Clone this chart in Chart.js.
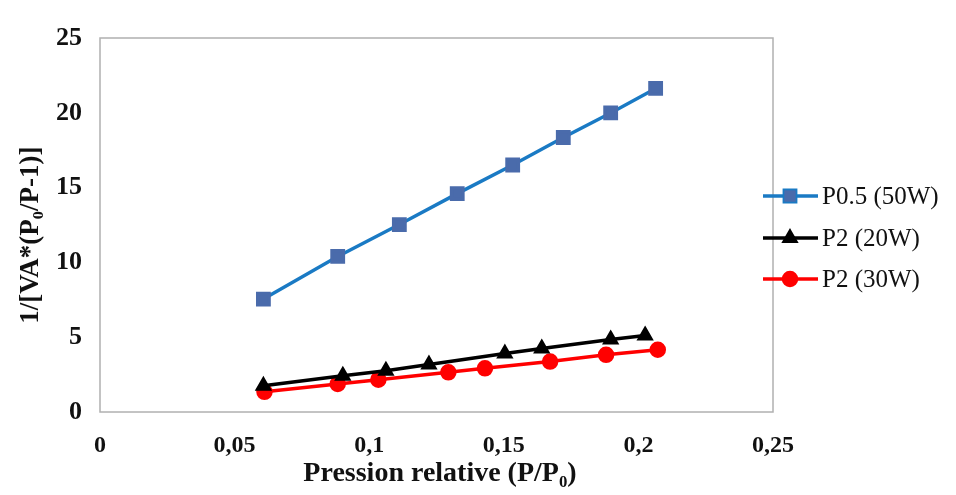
<!DOCTYPE html>
<html>
<head>
<meta charset="utf-8">
<script src="https://cdn.jsdelivr.net/npm/chart.js@4/dist/chart.umd.min.js"></script>
<style>
  html, body { margin: 0; padding: 0; background: #fff; }
  #wrap { width: 956px; height: 495px; }
</style>
</head>
<body>
<div id="wrap"><canvas id="bet"></canvas></div>
<script>
const xBlue = [0.0607, 0.0883, 0.1112, 0.1327, 0.1533, 0.1721, 0.1897, 0.2064];
const yBlue = [7.55, 10.40, 12.53, 14.60, 16.51, 18.35, 19.99, 21.63];
const xBlack = [0.0607, 0.0902, 0.1062, 0.1222, 0.1504, 0.1641, 0.1897, 0.2025];
const yBlack = [1.75, 2.43, 2.76, 3.17, 3.91, 4.25, 4.85, 5.12];
const xRed = [0.0611, 0.0883, 0.1034, 0.1294, 0.1430, 0.1672, 0.1880, 0.2072];
const yRed = [1.35, 1.87, 2.16, 2.65, 2.92, 3.37, 3.82, 4.16];
const seriesNames = ['P0.5 (50W)', 'P2 (20W)', 'P2 (30W)'];
const xTitle = '\u00a0Pression relative (P/P\u2080)';
const yTitle = '1/[VA*(P\u2080/P-1)]\u00a0\u00a0\u00a0';

const serif = "'Liberation Serif', 'Times New Roman', serif";

function toPoints(xs, ys) {
    return xs.map((x, i) => ({ x: x, y: ys[i] }));
}

// plot frame + legend with line and marker, like the excel one
const framePlugin = {
    id: 'frame',
    afterDraw(chart) {
        const ctx = chart.ctx;
        const a = chart.chartArea;
        ctx.save();
        ctx.strokeStyle = '#b0b0b0';
        ctx.lineWidth = 1.5;
        ctx.strokeRect(a.left, a.top, a.right - a.left, a.bottom - a.top);

        const rows = [196, 238, 279];
        chart.data.datasets.forEach((ds, i) => {
            const y = rows[i];
            ctx.strokeStyle = ds.borderColor;
            ctx.lineWidth = ds.borderWidth;
            ctx.beginPath();
            ctx.moveTo(763, y);
            ctx.lineTo(818, y);
            ctx.stroke();
            Chart.helpers.drawPoint(ctx, {
                pointStyle: ds.pointStyle,
                radius: ds.pointRadius,
                borderWidth: 1
            }, 790, y);
            ctx.fillStyle = ds.pointBackgroundColor;
            ctx.strokeStyle = ds.pointBorderColor;
            ctx.fill();
            ctx.fillStyle = '#111';
            ctx.font = '25px ' + serif;
            ctx.textBaseline = 'middle';
            ctx.fillText(ds.label, 822, y + 1);
        });
        ctx.restore();
    }
};

new Chart(document.getElementById('bet'), {
    type: 'scatter',
    data: {
        datasets: [
            {
                label: seriesNames[0],
                data: toPoints(xBlue, yBlue),
                showLine: true,
                borderColor: '#1a7ac4',
                borderWidth: 3.5,
                pointStyle: 'rect',
                pointRadius: 8,
                pointBackgroundColor: '#4a6bab',
                pointBorderColor: '#4a6bab'
            },
            {
                label: seriesNames[1],
                data: toPoints(xBlack, yBlack),
                showLine: true,
                borderColor: '#000000',
                borderWidth: 3.5,
                pointStyle: 'triangle',
                pointRadius: 6.5,
                pointBackgroundColor: '#000000',
                pointBorderColor: '#000000'
            },
            {
                label: seriesNames[2],
                data: toPoints(xRed, yRed),
                showLine: true,
                borderColor: '#ff0000',
                borderWidth: 3.5,
                pointStyle: 'circle',
                pointRadius: 6.5,
                pointBackgroundColor: '#ff0000',
                pointBorderColor: '#ff0000'
            }
        ]
    },
    options: {
        responsive: true,
        maintainAspectRatio: false,
        animation: false,
        layout: { padding: { left: 0, top: 38, right: 183, bottom: 0 } },
        plugins: {
            legend: { display: false },
            tooltip: { enabled: false }
        },
        scales: {
            x: {
                type: 'linear',
                min: 0,
                max: 0.25,
                grid: { display: false, drawTicks: false },
                border: { display: false },
                ticks: {
                    stepSize: 0.05,
                    padding: 19,
                    color: '#111',
                    font: { family: serif, size: 24, weight: 'bold' },
                    callback: v => String(Math.round(v * 100) / 100).replace('.', ',')
                },
                title: {
                    display: true,
                    text: xTitle,
                    color: '#111',
                    font: { family: serif, size: 28, weight: 'bold' },
                    padding: { top: 0, bottom: 4 }
                },
                afterFit: s => { s.height = 83; }
            },
            y: {
                min: 0,
                max: 25,
                grid: { display: false, drawTicks: false },
                border: { display: false },
                ticks: {
                    stepSize: 5,
                    padding: 18,
                    color: '#111',
                    font: { family: serif, size: 26, weight: 'bold' }
                },
                title: {
                    display: true,
                    text: yTitle,
                    color: '#111',
                    font: { family: serif, size: 27, weight: 'bold' },
                    padding: { top: 15, bottom: 0 }
                },
                afterFit: s => { s.width = 100; }
            }
        }
    },
    plugins: [framePlugin]
});
</script>
</body>
</html>
